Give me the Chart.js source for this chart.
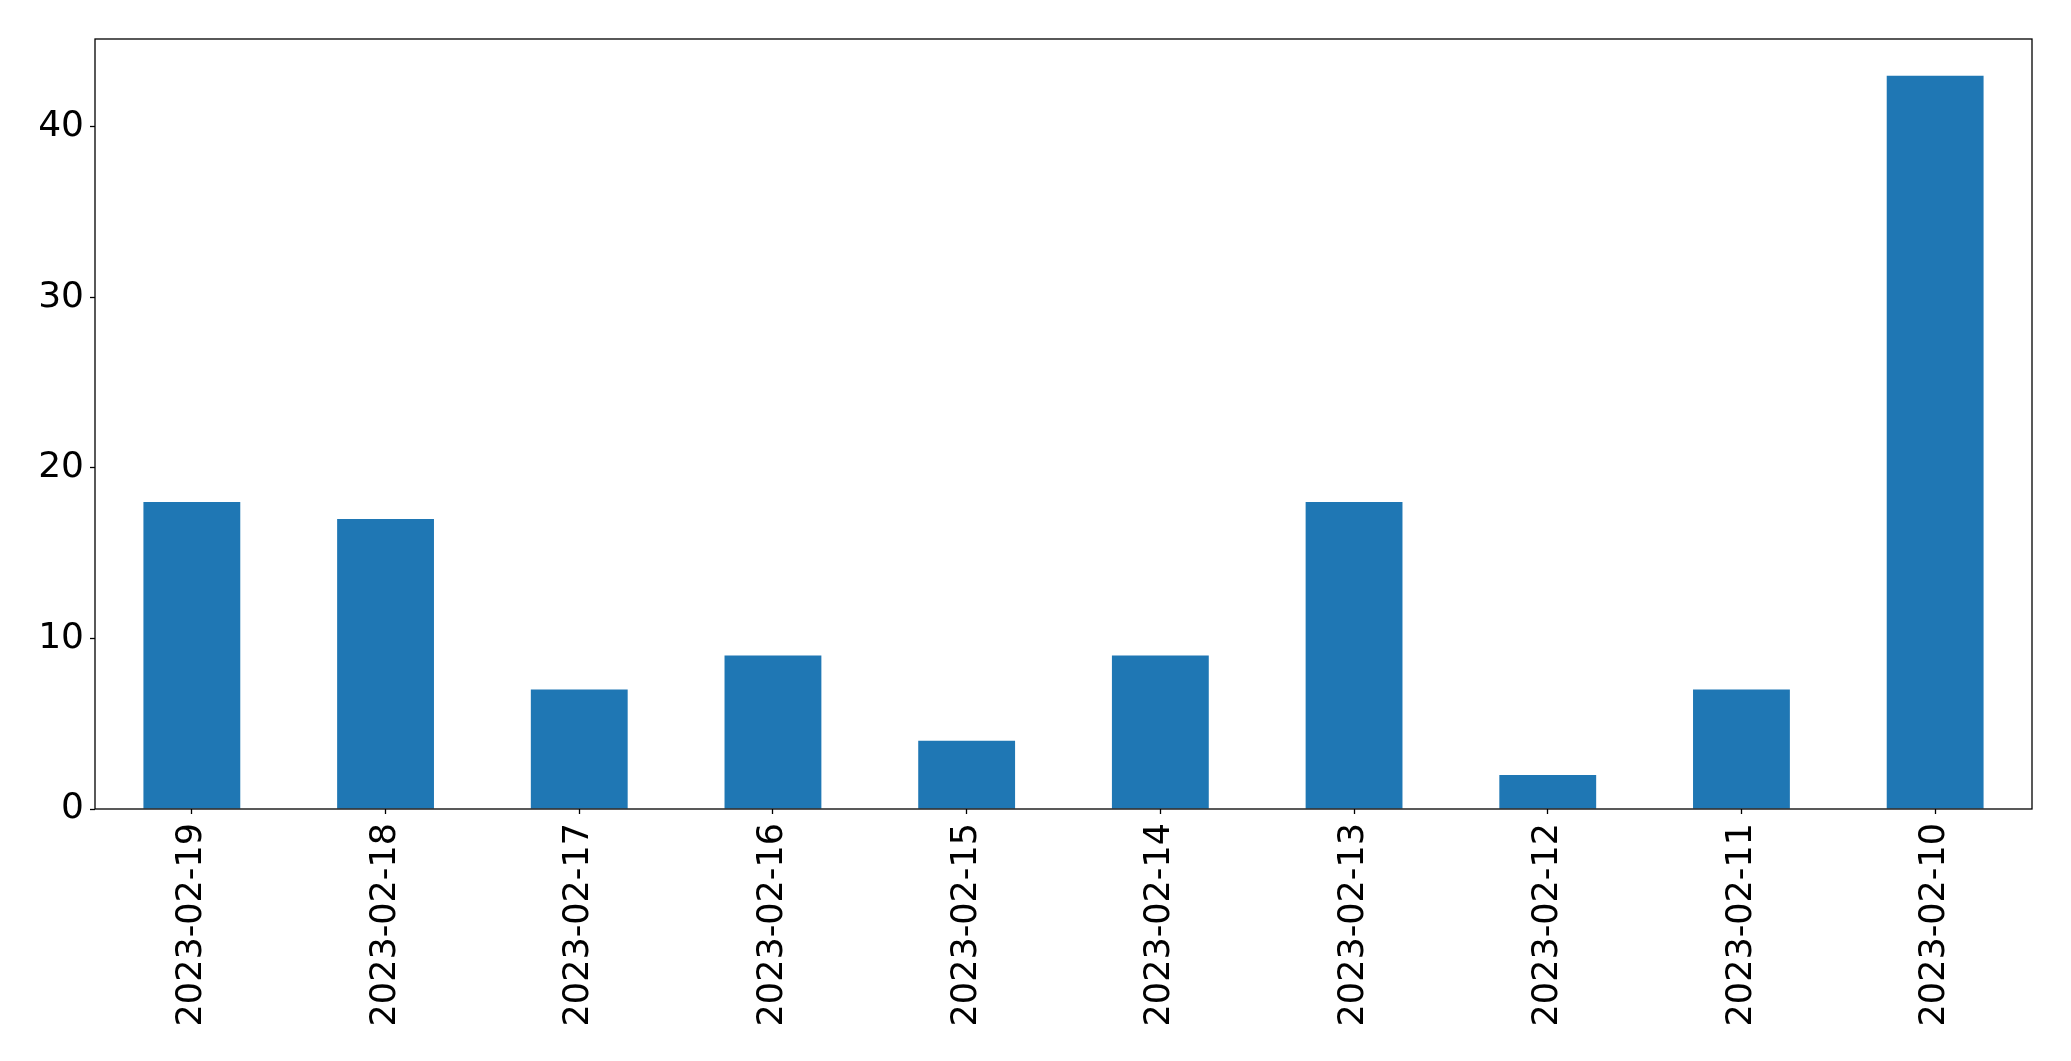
<!DOCTYPE html>
<html>
<head>
<meta charset="utf-8">
<script src="https://cdn.jsdelivr.net/npm/chart.js@4"></script>
<style>
  html, body { margin: 0; padding: 0; background: #fff; }
  #wrap { width: 2071px; height: 1061px; }
</style>
</head>
<body>
<div id="wrap"><canvas id="barChart"></canvas></div>
<script>
// datos del gráfico
var fechas = ['2023-02-19', '2023-02-18', '2023-02-17', '2023-02-16', '2023-02-15',
              '2023-02-14', '2023-02-13', '2023-02-12', '2023-02-11', '2023-02-10'];
var valores = [18, 17, 7, 9, 4, 9, 18, 2, 7, 43];
var ticksY = [0, 10, 20, 30, 40];

// marco completo alrededor del área del gráfico
var marco = {
  id: 'marco',
  afterDraw: function(chart) {
    var a = chart.chartArea, ctx = chart.ctx;
    ctx.save();
    ctx.strokeStyle = '#000';
    ctx.lineWidth = 1.3;
    ctx.strokeRect(a.left, a.top, a.right - a.left, a.bottom - a.top);
    ctx.restore();
  }
};

Chart.defaults.font.family = 'DejaVu Sans';
Chart.defaults.color = '#000';

var ctx = document.getElementById('barChart').getContext('2d');
var barChart = new Chart(ctx, {
  type: 'bar',
  data: {
    labels: fechas,
    datasets: [{
      data: valores,
      backgroundColor: '#1f77b4',
      categoryPercentage: 1.0,
      barPercentage: 0.5
    }]
  },
  options: {
    responsive: true,
    maintainAspectRatio: false,
    animation: false,
    layout: { padding: { top: 39, right: 39, left: 0, bottom: 0 } },
    plugins: { legend: { display: false }, tooltip: { enabled: false } },
    scales: {
      x: {
        grid: { offset: false, drawOnChartArea: false, tickLength: 5, tickColor: '#000', tickWidth: 1.3 },
        border: { display: false },
        ticks: { font: { size: 35 }, minRotation: 90, maxRotation: 90, padding: 9, color: '#000' },
        afterFit: function(scale) { scale.height = 252; }
      },
      y: {
        min: 0,
        max: 45.15,
        grid: { drawOnChartArea: false, tickLength: 5, tickColor: '#000', tickWidth: 1.3 },
        border: { display: false },
        afterBuildTicks: function(scale) {
          scale.ticks = ticksY.map(function(v) { return { value: v }; });
        },
        ticks: { font: { size: 36 }, padding: 6, color: '#000' },
        afterFit: function(scale) { scale.width = 95; }
      }
    }
  },
  plugins: [marco]
});
</script>
</body>
</html>
